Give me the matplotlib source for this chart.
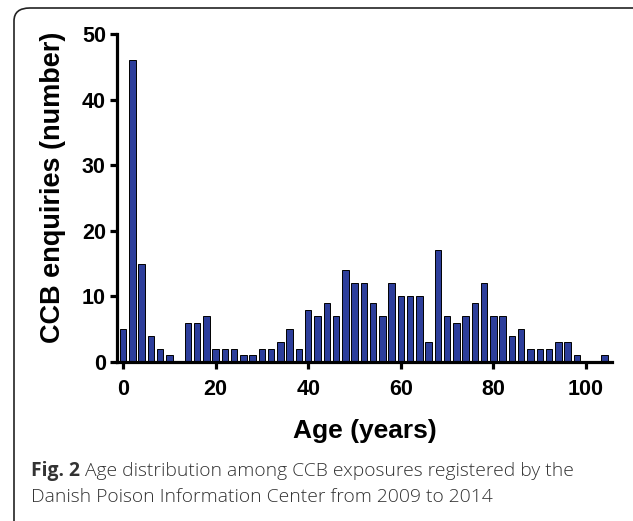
import numpy as np
import matplotlib
matplotlib.use("Agg")
from matplotlib import pyplot as plt
from matplotlib.patches import FancyBboxPatch

# age bins (years) and number of CCB enquiries per bin
ages = list(range(0, 106, 2))
counts = [5, 46, 15, 4, 2, 1, 0, 6, 6, 7,
          2, 2, 2, 1, 1, 2, 2, 3, 5, 2,
          8, 7, 9, 7, 14, 12, 12, 9, 7, 12,
          10, 10, 10, 3, 17, 7, 6, 7, 9, 12,
          7, 7, 4, 5, 2, 2, 2, 3, 3, 1,
          0, 0, 1]
xticks = [0, 20, 40, 60, 80, 100]
yticks = [0, 10, 20, 30, 40, 50]

caption_bold = "Fig. 2"
caption_rest = " Age distribution among CCB exposures registered by the"
caption_line2 = "Danish Poison Information Center from 2009 to 2014"

plt.rcParams['font.family'] = ['Liberation Sans', 'DejaVu Sans']

W, H = 633, 521
fig = plt.figure(figsize=(W / 100, H / 100), dpi=100)

# rounded frame around the figure (runs off the right and bottom edges)
frame = FancyBboxPatch((14 / W, -0.2), 1.2, 1.2 - 8 / H,
                       boxstyle="round,pad=0,rounding_size=0.025",
                       transform=fig.transFigure, fill=False,
                       edgecolor='#222222', linewidth=1.2, clip_on=False)
fig.patches.append(frame)

ax = fig.add_axes([117 / W, 1 - 362 / H, (612 - 117) / W, (362 - 34) / H])
ax.bar(ages, counts, width=1.4, color='#2D3E9B', edgecolor='black', linewidth=0.7)

ax.set_xlim(-1.3, 105.6)
ax.set_ylim(0, 50)
ax.set_xticks(xticks)
ax.set_yticks(yticks)
for s in ['top', 'right']:
    ax.spines[s].set_visible(False)
for s in ['left', 'bottom']:
    ax.spines[s].set_linewidth(2.3)
ax.tick_params(direction='out', length=5, width=2.3, labelsize=15.5)
ax.tick_params(axis='x', pad=7)
ax.tick_params(axis='y', pad=3)
for lab in ax.get_xticklabels() + ax.get_yticklabels():
    lab.set_fontweight('bold')

ax.set_xlabel("Age (years)", fontsize=19, fontweight='bold')
ax.set_ylabel("CCB enquiries (number)", fontsize=19.5, fontweight='bold')
ax.xaxis.set_label_coords(0.5, (362 - 419) / 328)
ax.yaxis.set_label_coords((66 - 117) / 495, (362 - 187) / 328)

# caption under the chart
cap_kw = dict(fontsize=13.9, family='Open Sans', color='#333333', va='baseline', ha='left')
t1 = fig.text(31 / W, 1 - 476 / H, caption_bold, fontweight='bold', **cap_kw)
fig.canvas.draw()
bb = t1.get_window_extent()
fig.text(bb.x1 / fig.bbox.width, 1 - 476 / H, caption_rest, fontweight='light', **cap_kw)
fig.text(31 / W, 1 - 502 / H, caption_line2, fontweight='light', **cap_kw)

fig.savefig("out.png", dpi=100)
